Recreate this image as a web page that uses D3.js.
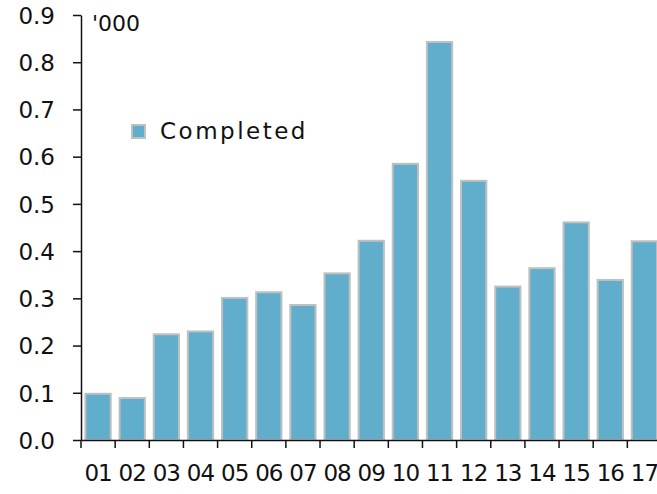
<!DOCTYPE html>
<html>
<head>
<meta charset="utf-8">
<script src="https://cdn.jsdelivr.net/npm/d3@7"></script>
<style>
  body { margin: 0; background: #fff; }
  svg text { font-family: "Century Gothic", "DejaVu Sans", sans-serif; fill: #111; }
</style>
</head>
<body>
<svg width="657" height="494"></svg>
<script>
// data
var years = ["01","02","03","04","05","06","07","08","09","10","11","12","13","14","15","16","17"];
var completed = [0.100, 0.091, 0.226, 0.232, 0.303, 0.315, 0.288, 0.355, 0.424, 0.587, 0.845, 0.551, 0.327, 0.366, 0.463, 0.341, 0.423];
var yTicks = [0, 0.1, 0.2, 0.3, 0.4, 0.5, 0.6, 0.7, 0.8, 0.9];
var seriesName = "Completed";
var unitLabel = "'000";

var svg = d3.select("svg");

var x = d3.scaleBand()
  .domain(years)
  .range([81, 661.5])
  .paddingInner(0)
  .paddingOuter(0);

var xb = d3.scaleBand()
  .domain(years)
  .range([81, 661.5])
  .paddingInner(0.2)
  .paddingOuter(0.1);

var y = d3.scaleLinear()
  .domain([0, 0.9])
  .range([440, 15]);

var data = years.map(function(d, i) { return {year: d, value: completed[i]}; });

// bars
svg.append("g")
  .selectAll("rect")
  .data(data)
  .enter().append("rect")
  .attr("x", function(d) { return xb(d.year) + 1; })
  .attr("y", function(d) { return y(d.value) + 1; })
  .attr("width", xb.bandwidth() - 2)
  .attr("height", function(d) { return y(0) - y(d.value) - 1; })
  .attr("fill", "#60aecb")
  .attr("stroke", "#c0c0c0")
  .attr("stroke-width", 2);

// y axis
var yAxis = svg.append("g")
  .attr("transform", "translate(81,0)")
  .call(d3.axisLeft(y).tickValues(yTicks).tickFormat(d3.format(".1f")).tickSize(8).tickSizeOuter(0));
yAxis.attr("font-family", null).attr("font-size", null);
yAxis.select(".domain").attr("stroke", "#111").attr("stroke-width", 1.5);
yAxis.selectAll(".tick line").attr("stroke", "#111").attr("stroke-width", 1.5);
yAxis.selectAll(".tick text")
  .attr("x", -26)
  .attr("dy", "0.36em")
  .style("font-size", "23px")
  .attr("fill", "#111");

// x axis: ticks on band edges, labels at band centres
var xAxis = svg.append("g")
  .attr("transform", "translate(0,440)")
  .call(d3.axisBottom(x).tickSize(8).tickSizeOuter(0));
xAxis.attr("font-family", null).attr("font-size", null);
xAxis.select(".domain").attr("stroke", "#111").attr("stroke-width", 1.5);
xAxis.selectAll(".tick line")
  .attr("x1", -x.step() / 2)
  .attr("x2", -x.step() / 2)
  .attr("stroke", "#111")
  .attr("stroke-width", 1.5);
xAxis.selectAll(".tick text")
  .attr("y", 41)
  .attr("dy", 0)
  .style("font-size", "23px")
  .attr("letter-spacing", -1)
  .attr("fill", "#111");

// unit label
svg.append("text")
  .attr("x", 92)
  .attr("y", 31)
  .style("font-size", "22px")
  .text(unitLabel);

// legend
var legend = svg.append("g").attr("transform", "translate(131,124)");
legend.append("rect")
  .attr("x", 1)
  .attr("y", 1)
  .attr("width", 13)
  .attr("height", 13)
  .attr("fill", "#60aecb")
  .attr("stroke", "#c0c0c0")
  .attr("stroke-width", 2);
legend.append("text")
  .attr("x", 29)
  .attr("y", 15)
  .style("font-size", "23px")
  .attr("letter-spacing", 2.5)
  .text(seriesName);
</script>
</body>
</html>
